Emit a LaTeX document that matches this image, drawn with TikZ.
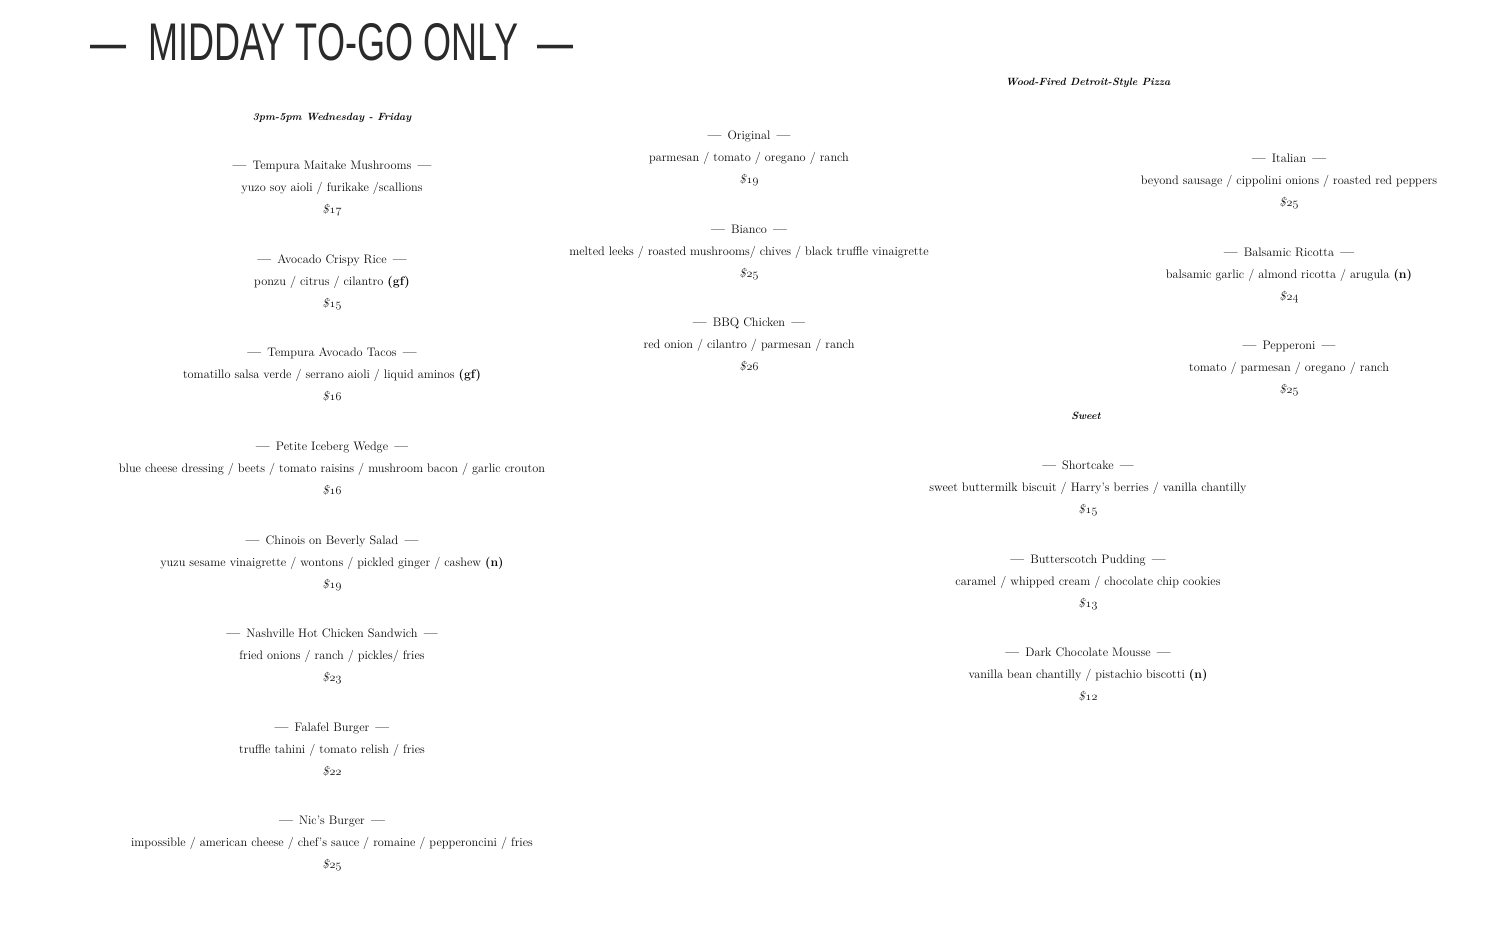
\documentclass[tikz,border=0pt]{standalone}
\usepackage{fontspec}
\usepackage{xcolor}
\newfontfamily\titlefont[FakeStretch=0.68]{Liberation Sans}
\usetikzlibrary{positioning, calc}

\definecolor{ink}{HTML}{0A0A0A}
\definecolor{titleink}{HTML}{2A2A2A}

% old-style figures for the prices
\newcommand{\osf}[1]{{\usefont{OML}{cmm}{m}{it}#1}}
\newcommand{\price}[1]{\textit{\$}\osf{#1}}

\tikzset{
    dishname/.style={anchor=base, inner sep=0pt, text=ink, font=\fontsize{12.3}{14}\selectfont},
    dishdesc/.style={anchor=base, inner sep=0pt, text=ink, font=\fontsize{12.3}{14}\selectfont},
    dishprice/.style={anchor=base, inner sep=0pt, text=ink, font=\fontsize{12.3}{14}\selectfont},
    section/.style={anchor=base, inner sep=0pt, text=ink, font=\fontsize{10.5}{12}\selectfont\bfseries\itshape}
}

% one dish: name, ingredients, price
\newcommand{\dish}[6]{%
    \node[dishname] (#1) at (#2,#3) {{\bfseries ---}\enspace #4\enspace{\bfseries ---}};
    \node[dishdesc] (#1-desc) at (#2,#3+22) {#5};
    \node[dishprice] (#1-price) at (#2,#3+44) {\price{#6}};
}

\begin{document}
\begin{tikzpicture}[x=1pt, y=-1pt]
    \useasboundingbox[fill=white] (0,0) rectangle (1510,927);

    % Title
    \node[anchor=base west, inner sep=0pt, text=titleink, font=\titlefont\fontsize{53}{60}\selectfont]
        (title) at (90,60) {—\hspace{12pt} MIDDAY TO-GO ONLY\hspace{9pt} —};

    % Section headers
    \node[section] (hours) at (332,120) {3pm-5pm Wednesday - Friday};
    \node[section] (pizza) at (1088,85) {Wood-Fired Detroit-Style Pizza};
    \node[section] (sweet) at (1086,419) {Sweet};

    % Left column
    \dish{maitake}{332}{169}{Tempura Maitake Mushrooms}{yuzo soy aioli / furikake /scallions}{17}
    \dish{rice}{332}{263}{Avocado Crispy Rice}{ponzu / citrus / cilantro \textbf{(gf)}}{15}
    \dish{tacos}{332}{356}{Tempura Avocado Tacos}{tomatillo salsa verde / serrano aioli / liquid aminos \textbf{(gf)}}{16}
    \dish{wedge}{332}{450}{Petite Iceberg Wedge}{blue cheese dressing / beets / tomato raisins / mushroom bacon / garlic crouton}{16}
    \dish{chinois}{332}{544}{Chinois on Beverly Salad}{yuzu sesame vinaigrette / wontons / pickled ginger / cashew \textbf{(n)}}{19}
    \dish{nashville}{332}{637}{Nashville Hot Chicken Sandwich}{fried onions / ranch / pickles/ fries}{23}
    \dish{falafel}{332}{731}{Falafel Burger}{truffle tahini / tomato relish / fries}{22}
    \dish{nics}{332}{824}{Nic's Burger}{impossible / american cheese / chef's sauce / romaine / pepperoncini / fries}{25}

    % Pizza, middle column
    \dish{original}{749}{139}{Original}{parmesan / tomato / oregano / ranch}{19}
    \dish{bianco}{749}{233}{Bianco}{melted leeks / roasted mushrooms/ chives / black truffle vinaigrette}{25}
    \dish{bbq}{749}{326}{BBQ Chicken}{red onion / cilantro / parmesan / ranch}{26}

    % Pizza, right column
    \dish{italian}{1289}{162}{Italian}{beyond sausage / cippolini onions / roasted red peppers}{25}
    \dish{ricotta}{1289}{256}{Balsamic Ricotta}{balsamic garlic / almond ricotta / arugula \textbf{(n)}}{24}
    \dish{pepperoni}{1289}{349}{Pepperoni}{tomato / parmesan / oregano / ranch}{25}

    % Sweet
    \dish{shortcake}{1088}{469}{Shortcake}{sweet buttermilk biscuit / Harry's berries / vanilla chantilly}{15}
    \dish{pudding}{1088}{563}{Butterscotch Pudding}{caramel / whipped cream / chocolate chip cookies}{13}
    \dish{mousse}{1088}{656}{Dark Chocolate Mousse}{vanilla bean chantilly / pistachio biscotti \textbf{(n)}}{12}
\end{tikzpicture}
\end{document}
